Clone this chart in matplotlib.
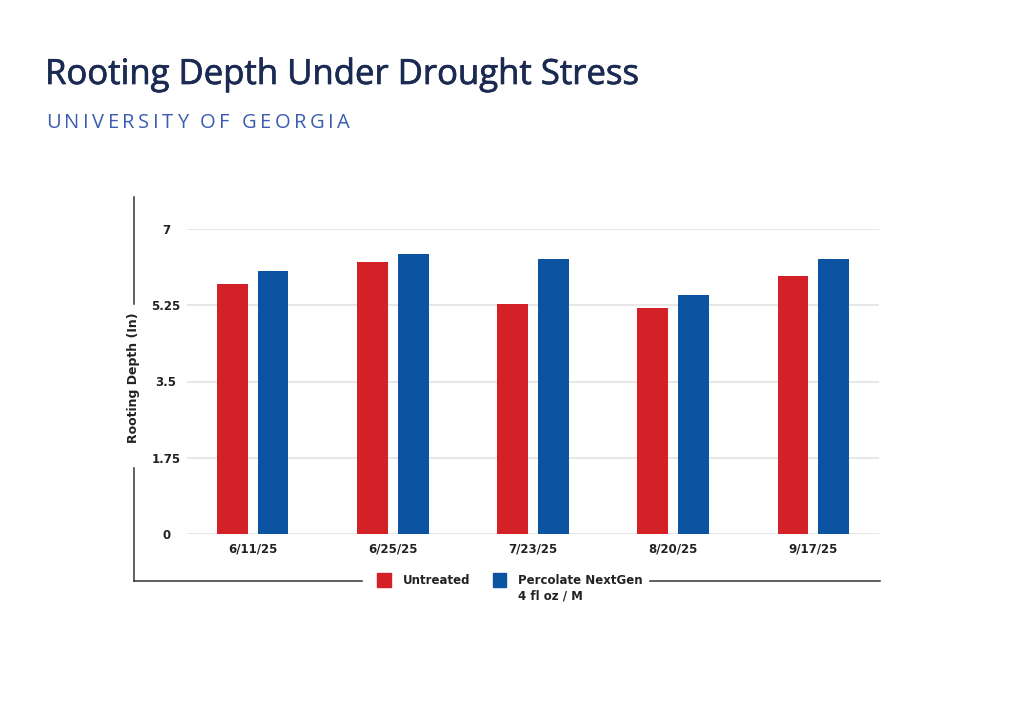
import matplotlib
matplotlib.use("Agg")
import matplotlib.pyplot as plt
import matplotlib.patheffects as pe
from matplotlib.lines import Line2D
from matplotlib.patches import Rectangle
import numpy as np

# data
dates = ['6/11/25', '6/25/25', '7/23/25', '8/20/25', '9/17/25']
untreated = [5.74, 6.24, 5.29, 5.19, 5.91]
percolate = [6.04, 6.43, 6.31, 5.49, 6.31]
yticks = [0, 1.75, 3.5, 5.25, 7]
ytick_labels = ['0', '1.75', '3.5', '5.25', '7']

red = '#d42027'
blue = '#0c53a1'
dark = '#1b2a52'
W, H = 1024, 701

fig = plt.figure(figsize=(W / 100, H / 100), dpi=100)
fig.patch.set_facecolor('white')


def fx(px):
    return px / W


def fy(py):
    return 1 - py / H


ax = fig.add_axes([fx(187), fy(534), fx(879) - fx(187), fy(229) - fy(534)])
x = np.arange(len(dates))
bw = 0.221
ax.bar(x - 0.144, untreated, bw, color=red, zorder=3)
ax.bar(x + 0.144, percolate, bw, color=blue, zorder=3)

ax.set_xlim(-0.47, 4.47)
ax.set_ylim(0, 7)
ax.set_yticks(yticks)
ax.set_yticklabels(ytick_labels)
ax.set_xticks(x)
ax.set_xticklabels(dates)
ax.grid(axis='y', color='#e3e3e3', lw=1.2, zorder=0)
ax.set_axisbelow(True)
for s in ax.spines.values():
    s.set_visible(False)
ax.tick_params(axis='both', length=0, labelsize=8.5, colors='#222222')
ax.tick_params(axis='y', pad=15)
ax.tick_params(axis='x', pad=6)
for lab in ax.get_yticklabels():
    lab.set_fontweight('bold')
    lab.set_horizontalalignment('center')
for lab in ax.get_xticklabels():
    lab.set_fontweight('bold')

# y label sitting in a gap of the left frame line
fig.text(fx(134), fy(378), 'Rooting Depth (In)', rotation=90, ha='center', va='center',
         fontsize=9, fontweight='bold', color='#222222')

frame = '#333333'
fig.add_artist(Line2D([fx(134), fx(134)], [fy(197), fy(304)], color=frame, lw=1.1))
fig.add_artist(Line2D([fx(134), fx(134)], [fy(468), fy(581)], color=frame, lw=1.1))
fig.add_artist(Line2D([fx(134), fx(362)], [fy(581), fy(581)], color=frame, lw=1.1))
fig.add_artist(Line2D([fx(650), fx(880)], [fy(581), fy(581)], color=frame, lw=1.1))

# legend
fig.add_artist(Rectangle((fx(377), fy(587)), fx(14), fy(573) - fy(587), color=red))
fig.add_artist(Rectangle((fx(493), fy(587)), fx(13), fy(573) - fy(587), color=blue))
fig.text(fx(403), fy(581), 'Untreated', ha='left', va='center', fontsize=8.5,
         fontweight='bold', color='#222222')
fig.text(fx(518), fy(580), 'Percolate NextGen', ha='left', va='center', fontsize=8.5,
         fontweight='bold', color='#222222')
fig.text(fx(518), fy(596), '4 fl oz / M', ha='left', va='center', fontsize=8.5,
         fontweight='bold', color='#222222')

# titles
fig.text(fx(45), fy(75), 'Rooting Depth Under Drought Stress', ha='left', va='center',
         fontsize=25, color=dark, family='Open Sans',
         path_effects=[pe.withStroke(linewidth=0.5, foreground=dark)])

# letter-spaced subtitle: right edge of each letter = right edge of the prefix
sub = 'UNIVERSITY OF GEORGIA'
renderer = fig.canvas.get_renderer()
probe = fig.text(0, 0, '', fontsize=14.5, family='Open Sans')
spacing = 3.5
for i, ch in enumerate(sub):
    if ch == ' ':
        continue
    probe.set_text(sub[:i + 1])
    right = probe.get_window_extent(renderer).width
    fig.text(fx(46 + right + i * spacing), fy(123), ch, ha='right', va='center',
             fontsize=14.5, color='#3a5db0', family='Open Sans')
probe.remove()

fig.savefig('out.png', dpi=100, facecolor='white')
